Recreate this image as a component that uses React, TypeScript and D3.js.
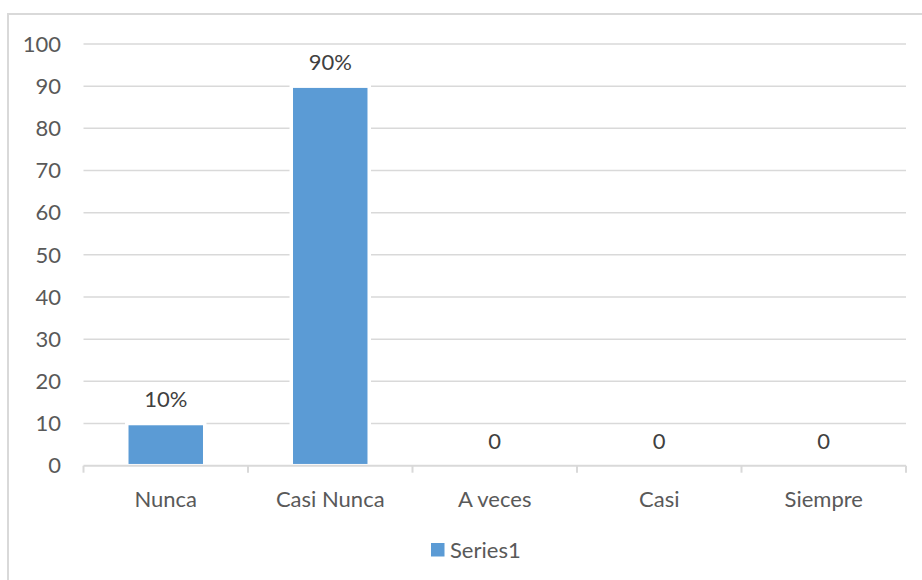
import React from "react";
import * as d3 from "d3";

const categories = ["Nunca", "Casi Nunca", "A veces", "Casi", "Siempre"];
const values = [10, 90, 0, 0, 0];
const valueLabels = ["10%", "90%", "0", "0", "0"];
const yTicks = [0, 10, 20, 30, 40, 50, 60, 70, 80, 90, 100];
const seriesName = "Series1";

export default function App() {
  const W = 922;
  const H = 580;
  const left = 83.5;
  const right = 906;
  const top = 44;
  const bottom = 465.7;
  const font = "Lato, 'Open Sans', sans-serif";
  const fs = 22;
  const textColor = "#595959";
  const grid = "#d9d9d9";
  const barColor = "#5b9bd5";

  const x = d3.scaleBand<string>().domain(categories).range([left, right]).paddingInner(0.526).paddingOuter(0.263);
  const y = d3.scaleLinear().domain([0, 100]).range([bottom, top]);
  const step = x.step();
  const tickXs = d3.range(categories.length + 1).map((i) => left + i * step);

  return (
    <svg width={W} height={H} style={{ position: "absolute", left: 0, top: 0, background: "#fff" }}>
      <rect x={0} y={0} width={W} height={H} fill="#fff" />
      {/* chart border */}
      <path d={`M8,${H + 5} L8,14 L${W + 5},14`} fill="none" stroke="#d9d9d9" strokeWidth={2} />
      {/* gridlines */}
      {yTicks.filter((t) => t > 0).map((t) => (
        <line key={t} x1={left} x2={right} y1={y(t)} y2={y(t)} stroke={grid} strokeWidth={1.5} />
      ))}
      {/* y labels */}
      {yTicks.map((t) => (
        <text key={t} x={61} y={y(t)} dy="0.35em" textAnchor="end" fontFamily={font} fontSize={fs} fill={textColor}>
          {t}
        </text>
      ))}
      {/* bars */}
      {categories.map((c, i) => (
        <rect
          key={c}
          x={x(c)}
          y={y(values[i])}
          width={x.bandwidth()}
          height={bottom - y(values[i])}
          fill={values[i] > 0 ? barColor : "none"}
          stroke={values[i] > 0 ? "#fff" : "none"}
          strokeWidth={3.5}
        />
      ))}
      {/* x axis */}
      <line x1={left} x2={right} y1={bottom} y2={bottom} stroke={grid} strokeWidth={2} />
      {tickXs.map((tx, i) => (
        <line key={i} x1={tx} x2={tx} y1={bottom} y2={bottom + 7} stroke={grid} strokeWidth={2} />
      ))}
      {/* x labels */}
      {categories.map((c) => (
        <text key={c} x={(x(c) as number) + x.bandwidth() / 2} y={499} dy="0.35em" textAnchor="middle" fontFamily={font} fontSize={fs} fill={textColor}>
          {c}
        </text>
      ))}
      {/* value labels */}
      {categories.map((c, i) => (
        <text key={c} x={(x(c) as number) + x.bandwidth() / 2} y={y(values[i]) - 24} dy="0.35em" textAnchor="middle" fontFamily={font} fontSize={fs} fill="#404040">
          {valueLabels[i]}
        </text>
      ))}
      {/* legend */}
      <rect x={431} y={543} width={13.5} height={13.5} fill={barColor} />
      <text x={450} y={550} dy="0.35em" fontFamily={font} fontSize={fs} fill={textColor}>
        {seriesName}
      </text>
    </svg>
  );
}
